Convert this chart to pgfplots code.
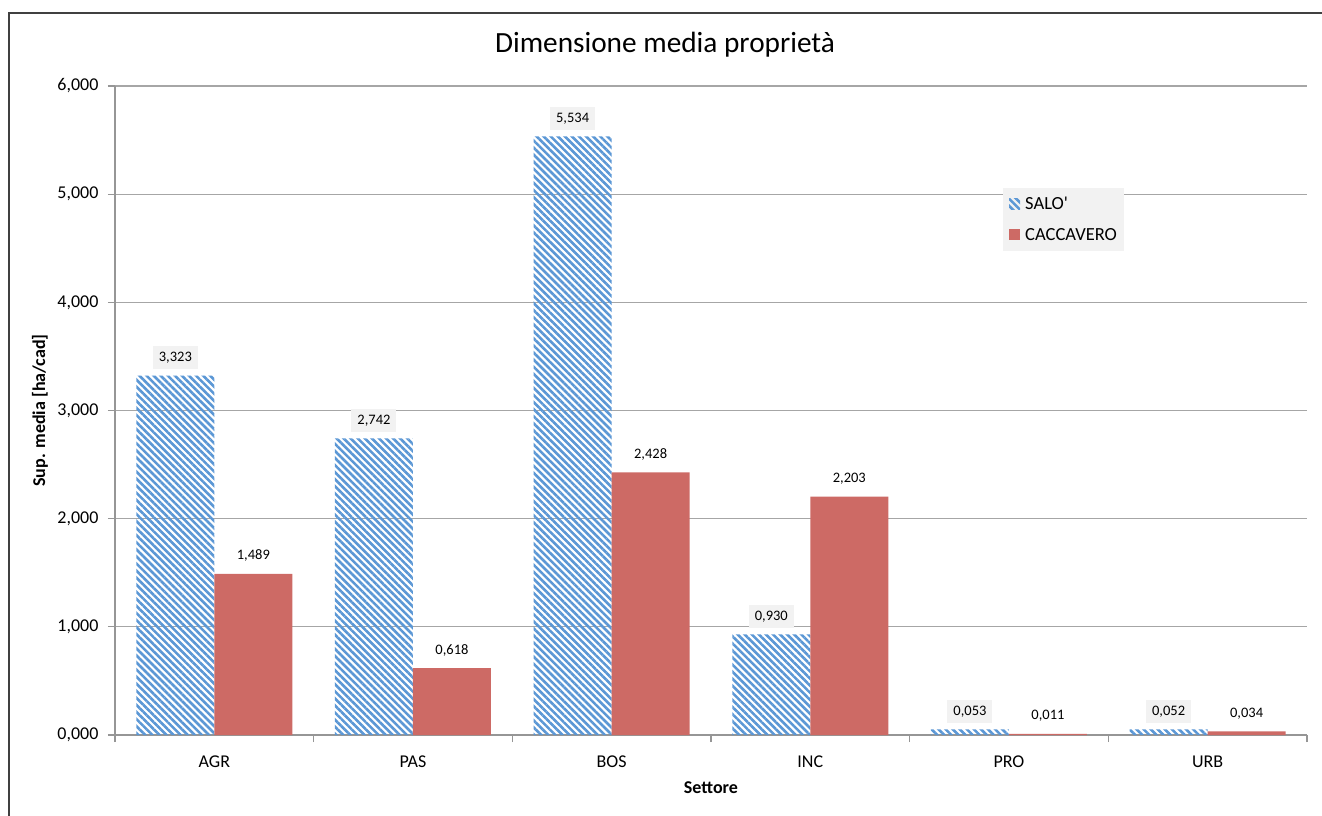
\documentclass[border=0pt]{standalone}
\usepackage{fontspec}
\setmainfont{Carlito}[Ligatures=TeXOff]
\usepackage{pgfplots}
\usepackage{pgfplotstable}
\pgfplotsset{compat=1.18}
\usetikzlibrary{patterns.meta}
\definecolor{sblue}{RGB}{91,151,213}
\definecolor{cred}{RGB}{205,106,101}
\definecolor{gridgray}{RGB}{166,166,166}
\definecolor{axgray}{RGB}{150,150,150}
\definecolor{lbg}{RGB}{242,242,242}
\definecolor{framec}{RGB}{64,64,64}

\pgfplotstableread{
x salo cacc
0 3.323 1.489
1 2.742 0.618
2 5.534 2.428
3 0.930 2.203
4 0.053 0.011
5 0.052 0.034
}\datatable

\begin{document}
\begin{tikzpicture}
\begin{axis}[
  at={(0,0)}, anchor=south west,
  scale only axis, width=1192bp, height=649bp,
  xmin=-0.5, xmax=5.5, ymin=0, ymax=6,
  enlargelimits=false,
  ybar=0pt, bar width=78bp,
  axis lines=left,
  axis line style={-, draw=axgray, line width=1.3bp},
  tick style={draw=axgray, line width=1.3bp},
  tick align=outside,
  major tick length=7bp,
  xtick={-0.5,0.5,...,5.5},
  xticklabels={},
  extra x ticks={0,1,2,3,4,5},
  extra x tick labels={AGR,PAS,BOS,INC,PRO,URB},
  extra x tick style={major tick length=0pt},
  ytick={0,1,2,3,4,5,6},
  ymajorgrids,
  grid style={draw=gridgray, line width=1.3bp},
  /pgf/number format/.cd, fixed, fixed zerofill, precision=3, use comma, assume math mode=true,
  /pgfplots/.cd,
  ticklabel style={font=\fontsize{18bp}{21bp}\selectfont},
  xticklabel style={yshift=-17bp},
  yticklabel style={xshift=-6bp},
  ylabel={Sup. media [ha/cad]},
  xlabel={Settore},
  every axis y label/.style={at={(axis description cs:-0.063,0.5)}, rotate=90, anchor=center, font=\bfseries\fontsize{18bp}{21bp}\selectfont},
  every axis x label/.style={at={(axis description cs:0.5,-0.0817)}, anchor=center, font=\bfseries\fontsize{18bp}{21bp}\selectfont},
  nodes near coords,
  nodes near coords style={anchor=south, yshift=6bp, inner xsep=6bp, inner ysep=6bp, font=\fontsize{14.5bp}{17bp}\selectfont, text=black},
  legend style={at={(0.745,0.843)}, anchor=north west, fill=lbg, draw=none,
    font=\fontsize{18.5bp}{21bp}\selectfont, inner xsep=6bp, inner ysep=8bp, row sep=15bp,
    nodes={inner sep=1bp}},
  legend cell align=left,
  legend image code/.code={\path[#1, draw=none] (0bp,-5.5bp) rectangle (11bp,5.5bp); \path (15bp,0bp);},
]
\addplot[draw=none, pattern={Lines[angle=-45,distance=5bp,line width=2.6bp]}, pattern color=sblue,
  every node near coord/.append style={fill=lbg}]
  table[x=x,y=salo]{\datatable};
\addlegendentry{SALO'}
\addplot[draw=none, fill=cred] table[x=x,y=cacc]{\datatable};
\addlegendentry{CACCAVERO}
\end{axis}
\node[anchor=base, font=\fontsize{29.3bp}{34bp}\selectfont] at (550bp,682bp) {Dimensione media proprietà};
\draw[framec, line width=1.3bp] (-106bp,-81bp) -- (-106bp,722bp) -- (1207bp,722bp);
\pgfresetboundingbox
\path[use as bounding box] (-115bp,-81bp) rectangle (1207bp,735bp);
\end{tikzpicture}
\end{document}
